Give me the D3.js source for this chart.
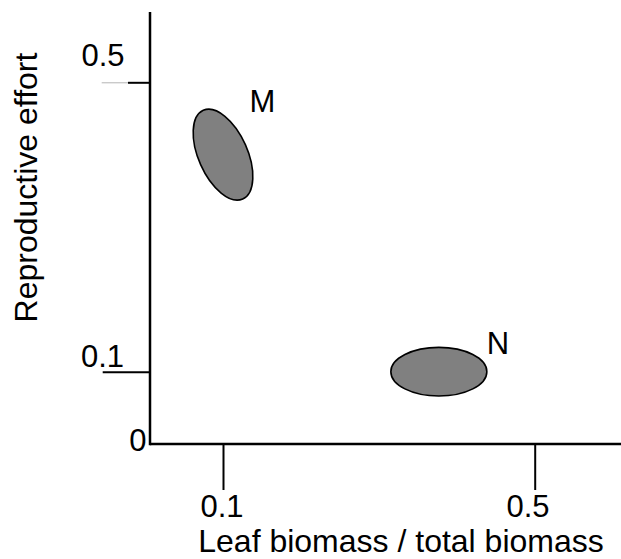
<!DOCTYPE html>
<html>
<head>
<meta charset="utf-8">
<script src="https://cdn.jsdelivr.net/npm/d3@7"></script>
<style>
  html, body { margin: 0; padding: 0; background: #fff; }
  svg { display: block; }
  text { font-family: "Liberation Sans", Arial, Helvetica, sans-serif; fill: #000; }
</style>
</head>
<body>
<svg id="chart" width="621" height="559"></svg>
<script>
// ---- data ----
const groups      = ["M", "N"];
const leafRatio   = [0.1, 0.377];   // leaf biomass / total biomass (centre of each cloud)
const reproEffort = [0.4, 0.1];     // reproductive effort (centre of each cloud)
const xTickValues = [0.1, 0.5];
const xTickLabels = ["0.1", "0.5"];
const yTickValues = [0, 0.1, 0.5];
const yTickLabels = ["0", "0.1", "0.5"];
const xTitle = "Leaf biomass / total biomass";
const yTitle = "Reproductive effort";

// ---- layout / style ----
const originX = 150, originY = 444, axisTop = 12, axisRight = 625;
const cloudShape  = { M: { rx: 48.5, ry: 24.5, rotate: 66 }, N: { rx: 48, ry: 24.3, rotate: 0 } };
const cloudLabelOffset = { M: [26.5, -42.3], N: [48, -17.4] };
const yLabelOffset = { "0": [-3.5, 6.7], "0.1": [-26, -5], "0.5": [-25.5, -17.3] };
const xLabelOffset = { "0.1": [-1.5, 72.7], "0.5": [-7.2, 72.7] };
const tickFont = 31, titleFont = 32;

const svg = d3.select("#chart");

const x = d3.scaleLinear().domain([0.1, 0.5]).range([223, 534.7]);
const y = d3.scaleLinear().domain([0, 0.5]).range([originY, 82.3]);

// y axis ticks and labels
const yAxis = svg.append("g")
  .attr("transform", `translate(${originX},0)`)
  .call(d3.axisLeft(y).tickValues(yTickValues).tickSize(47.3)
        .tickFormat((d, i) => yTickLabels[i]));
yAxis.select(".domain").remove();
yAxis.selectAll(".tick line").attr("stroke", "#000").attr("stroke-width", 2)
  .attr("display", d => d === 0 ? "none" : null)
  .attr("x2", d => d === 0.5 ? -22 : -47.3);
// faint extension of the upper tick
yAxis.selectAll(".tick").filter(d => d === 0.5).append("line")
  .attr("x1", -48.3).attr("x2", -22).attr("y1", 0).attr("y2", 0)
  .attr("stroke", "#b4b4b4").attr("stroke-width", 1);
yAxis.selectAll(".tick text")
  .attr("font-size", tickFont).attr("font-family", null)
  .attr("dy", null)
  .attr("x", (d, i) => yLabelOffset[yTickLabels[i]][0])
  .attr("y", (d, i) => yLabelOffset[yTickLabels[i]][1]);

// x axis ticks and labels
const xAxis = svg.append("g")
  .attr("transform", `translate(0,${originY})`)
  .call(d3.axisBottom(x).tickValues(xTickValues).tickSize(46)
        .tickFormat((d, i) => xTickLabels[i]));
xAxis.select(".domain").remove();
xAxis.selectAll(".tick line").attr("stroke", "#000").attr("stroke-width", 2);
xAxis.selectAll(".tick text")
  .attr("font-size", tickFont).attr("font-family", null)
  .attr("dy", null)
  .attr("x", (d, i) => xLabelOffset[xTickLabels[i]][0])
  .attr("y", (d, i) => xLabelOffset[xTickLabels[i]][1]);

// axis lines
svg.append("line").attr("x1", originX).attr("x2", originX)
  .attr("y1", axisTop).attr("y2", originY + 1.2)
  .attr("stroke", "#000").attr("stroke-width", 2.5);
svg.append("line").attr("x1", originX).attr("x2", axisRight)
  .attr("y1", originY).attr("y2", originY)
  .attr("stroke", "#000").attr("stroke-width", 2.5);

// clouds
const cloud = svg.append("g").selectAll("g")
  .data(groups.map((g, i) => ({ g, lx: leafRatio[i], re: reproEffort[i] })))
  .join("g")
  .attr("transform", d => `translate(${x(d.lx)},${y(d.re)})`);

cloud.append("ellipse")
  .attr("rx", d => cloudShape[d.g].rx)
  .attr("ry", d => cloudShape[d.g].ry)
  .attr("transform", d => `rotate(${cloudShape[d.g].rotate})`)
  .attr("fill", "#808080")
  .attr("stroke", "#000")
  .attr("stroke-width", 1.6);

cloud.append("text")
  .attr("x", d => cloudLabelOffset[d.g][0])
  .attr("y", d => cloudLabelOffset[d.g][1])
  .attr("font-size", tickFont)
  .text(d => d.g);

// axis titles
svg.append("text")
  .attr("x", 401).attr("y", 552)
  .attr("text-anchor", "middle")
  .attr("font-size", titleFont)
  .text(xTitle);

svg.append("text")
  .attr("transform", "translate(37,187.5) rotate(-90)")
  .attr("text-anchor", "middle")
  .attr("font-size", titleFont)
  .text(yTitle);
</script>
</body>
</html>
